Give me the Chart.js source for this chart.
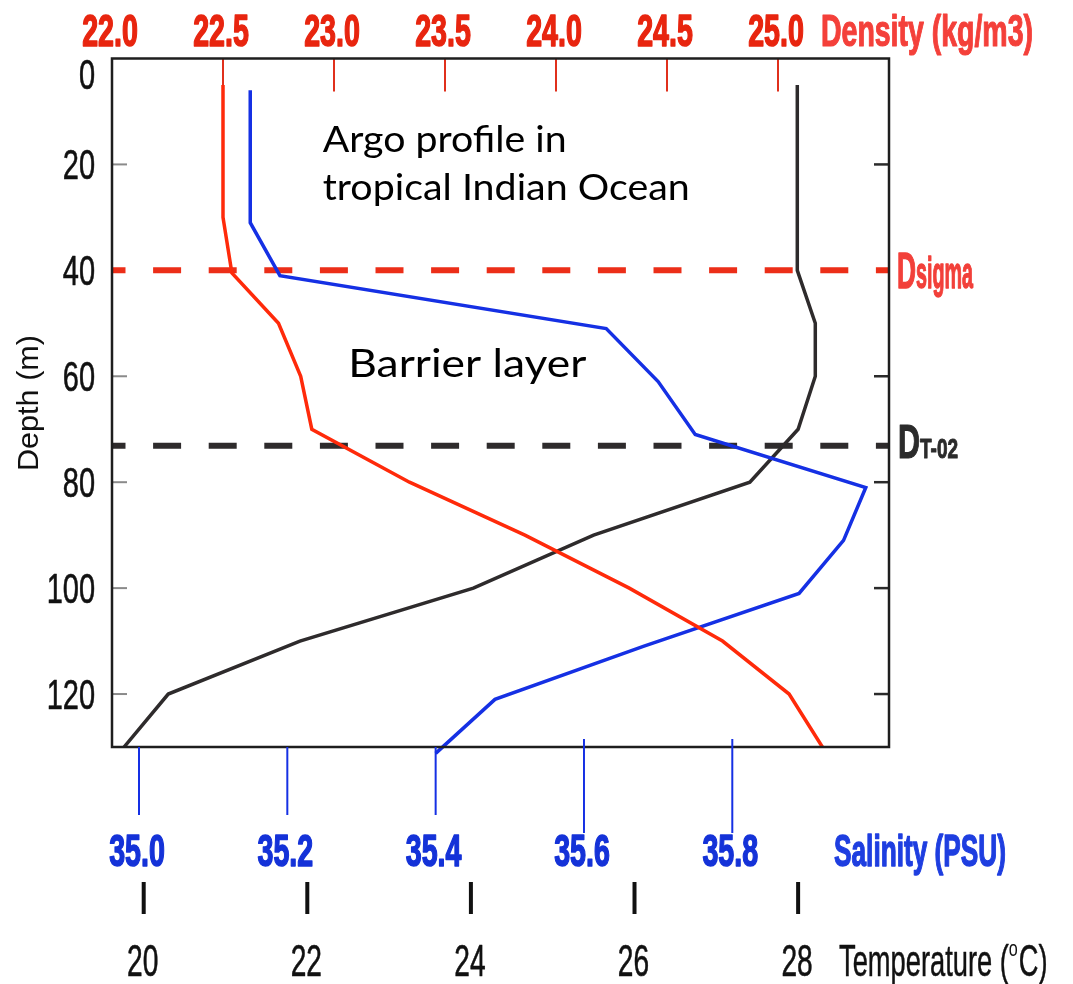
<!DOCTYPE html>
<html>
<head>
<meta charset="utf-8">
<title>Argo profile - barrier layer</title>
<script src="https://cdn.jsdelivr.net/npm/chart.js@4/dist/chart.umd.min.js"></script>
<style>
  html, body { margin: 0; padding: 0; background: #fff; }
  canvas { display: block; }
</style>
</head>
<body>
<canvas id="profile" width="1073" height="984"></canvas>
<script>
// values (depth in m)
const depthTicks = [0, 20, 40, 60, 80, 100, 120];
const densityTicks = [22.0, 22.5, 23.0, 23.5, 24.0, 24.5, 25.0];
const salinityTicks = [35.0, 35.2, 35.4, 35.6, 35.8];
const temperatureTicks = [20, 22, 24, 26, 28];

const densityDepth = [5, 30, 40.5, 50, 60, 70, 80, 90, 100, 110, 120, 130];
const densityValues = [22.50, 22.50, 22.54, 22.75, 22.85, 22.90, 23.34, 23.86, 24.33, 24.75, 25.05, 25.20];

const salinityDepth = [6, 31, 41, 51, 61, 71, 81, 91, 101, 111, 121, 131.2];
const salinityValues = [35.15, 35.15, 35.19, 35.63, 35.70, 35.75, 35.98, 35.95, 35.89, 35.68, 35.48, 35.40];

const temperatureDepth = [5, 40, 50, 60, 70, 80, 90, 100, 110, 120, 130];
const temperatureValues = [27.99, 27.99, 28.21, 28.21, 28.00, 27.41, 25.50, 24.03, 21.91, 20.30, 19.76];

const dSigma = 40;     // density-based and T-0.2 layer depths
const dT02 = 73.1;

const AXIS_FONT = '"Liberation Sans", Arial, sans-serif';
const NOTE_FONT = 'Lato, "Open Sans", sans-serif';

const RED = '#ff2a0a';
const BLUE = '#1530e4';
const BLACK = '#2e2b2c';

function pairs(xs, ys) {
    return xs.map((v, i) => ({ x: v, y: ys[i] }));
}

// draws text squeezed horizontally (the original uses a condensed face)
function drawText(ctx, s, x, y, o) {
    ctx.save();
    ctx.font = (o.weight || 'normal') + ' ' + o.size + 'px ' + (o.family || AXIS_FONT);
    const nat = ctx.measureText(s).width;
    const sx = o.width ? o.width / nat : (o.sx || 1);
    const w = nat * sx;
    ctx.translate(x, y);
    if (o.rotate) ctx.rotate(o.rotate);
    let x0 = 0;
    if (o.align === 'center') x0 = -w / 2;
    else if (o.align === 'right') x0 = -w;
    ctx.translate(x0, 0);
    ctx.scale(sx, 1);
    ctx.fillStyle = o.color;
    ctx.textAlign = 'left';
    ctx.textBaseline = 'alphabetic';
    ctx.fillText(s, 0, 0);
    if (o.heavy) {
        // thicken strokes a bit, the squeeze makes them thin
        ctx.strokeStyle = o.color;
        ctx.lineWidth = o.heavy;
        ctx.lineJoin = 'round';
        ctx.strokeText(s, 0, 0);
    }
    ctx.restore();
    return w;
}

function line(ctx, x1, y1, x2, y2, color, width) {
    ctx.save();
    ctx.strokeStyle = color;
    ctx.lineWidth = width;
    ctx.beginPath();
    ctx.moveTo(x1, y1);
    ctx.lineTo(x2, y2);
    ctx.stroke();
    ctx.restore();
}

const axesPlugin = {
    id: 'axesPlugin',
    beforeDatasetsDraw(chart) {
        const ctx = chart.ctx;
        const a = chart.chartArea;
        const y = chart.scales.y;
        const xd = chart.scales.xd;

        // density ticks hanging from the top edge
        densityTicks.forEach(v => {
            if (v === 22.0) return;
            const px = xd.getPixelForValue(v);
            line(ctx, px, a.top, px, a.top + 33, '#e0301c', 2);
        });

        // depth ticks, inside on both sides
        depthTicks.forEach(v => {
            if (v === 0 || v === 40) return;
            const py = y.getPixelForValue(v);
            line(ctx, a.left, py, a.left + 15, py, '#8a8a8a', 2);
            line(ctx, a.right - 15, py, a.right, py, '#2b2b2b', 2.5);
        });
    },
    afterDatasetsDraw(chart) {
        const ctx = chart.ctx;
        const a = chart.chartArea;
        const y = chart.scales.y;
        const xd = chart.scales.xd;
        const xs = chart.scales.xs;
        const xt = chart.scales.xt;

        // frame
        ctx.save();
        ctx.strokeStyle = '#1e1e1e';
        ctx.lineWidth = 2.5;
        ctx.strokeRect(a.left, a.top, a.right - a.left, a.bottom - a.top);
        ctx.restore();

        // density (top)
        densityTicks.forEach(v => {
            drawText(ctx, v.toFixed(1), xd.getPixelForValue(v) - 2, 46,
                { size: 44, weight: 'bold', sx: 0.65, color: '#e8250f', align: 'center', heavy: 1.6 });
        });
        drawText(ctx, 'Density (kg/m3)', 821, 46,
            { size: 44, weight: 'bold', width: 212, color: '#f4403a', heavy: 1.2 });

        // depth (left)
        depthTicks.forEach(v => {
            const py = v === 0 ? y.getPixelForValue(v) + 15.5 : y.getPixelForValue(v);
            drawText(ctx, String(v), 95, py + 15,
                { size: 42, sx: 0.69, color: '#111', align: 'right', heavy: 0.6 });
        });
        drawText(ctx, 'Depth (m)', 38, 403,
            { size: 29, width: 136, color: '#111', align: 'center', rotate: -Math.PI / 2 });

        // salinity (bottom)
        salinityTicks.forEach((v, i) => {
            const px = xs.getPixelForValue(v);
            const long = i >= 3;
            line(ctx, px, long ? a.bottom - 8 : a.bottom, px, long ? a.bottom + 86 : a.bottom + 68, BLUE, 2);
            drawText(ctx, v.toFixed(1), px - 2, 866,
                { size: 44, weight: 'bold', sx: 0.65, color: '#1432d8', align: 'center', heavy: 1.6 });
        });
        drawText(ctx, 'Salinity (PSU)', 834, 866,
            { size: 44, weight: 'bold', width: 172, color: '#1e3ee0', heavy: 1.4 });

        // temperature (bottom)
        temperatureTicks.forEach(v => {
            const px = xt.getPixelForValue(v);
            line(ctx, px, 882, px, 914, '#111', 4);
            drawText(ctx, String(v), px - 1, 976,
                { size: 44, sx: 0.64, color: '#111', align: 'center', heavy: 0.6 });
        });
        const wT = drawText(ctx, 'Temperature (', 839, 976,
            { size: 44, sx: 0.62, color: '#111', heavy: 0.5 });
        drawText(ctx, 'o', 839 + wT, 956,
            { size: 22, width: 9, color: '#111' });
        drawText(ctx, 'C)', 839 + wT + 10, 976,
            { size: 44, sx: 0.62, color: '#111', heavy: 0.5 });

        // layer markers on the right
        const wS = drawText(ctx, 'D', 897, 288,
            { size: 50, weight: 'bold', width: 19, color: '#f2403a', heavy: 1.4 });
        drawText(ctx, 'sigma', 897 + wS, 288,
            { size: 44, weight: 'bold', width: 57, color: '#f2403a', heavy: 1.4 });
        const wD = drawText(ctx, 'D', 898, 458,
            { size: 48, weight: 'bold', width: 22, color: '#2b2b2b', heavy: 1.2 });
        drawText(ctx, 'T-02', 898 + wD, 458,
            { size: 28, weight: 'bold', width: 38, color: '#2b2b2b', heavy: 1 });

        // notes
        drawText(ctx, 'Argo profile in', 322.7, 151.7,
            { size: 36, family: NOTE_FONT, width: 244, color: '#000' });
        drawText(ctx, 'tropical Indian Ocean', 322.7, 200,
            { size: 36, family: NOTE_FONT, width: 367, color: '#000' });
        drawText(ctx, 'Barrier layer', 348.3, 376.7,
            { size: 39, family: NOTE_FONT, width: 238, color: '#000' });
    }
};

new Chart(document.getElementById('profile'), {
    type: 'scatter',
    data: {
        datasets: [
            {
                label: 'Density',
                data: pairs(densityValues, densityDepth),
                xAxisID: 'xd', yAxisID: 'y',
                showLine: true, pointRadius: 0,
                borderColor: RED, borderWidth: 3.5, order: 1
            },
            {
                label: 'Salinity',
                data: pairs(salinityValues, salinityDepth),
                xAxisID: 'xs', yAxisID: 'y',
                showLine: true, pointRadius: 0,
                borderColor: BLUE, borderWidth: 3.5, order: 1,
                clip: { left: 0, top: 0, right: 0, bottom: 8 }
            },
            {
                label: 'Temperature',
                data: pairs(temperatureValues, temperatureDepth),
                xAxisID: 'xt', yAxisID: 'y',
                showLine: true, pointRadius: 0,
                borderColor: BLACK, borderWidth: 3.5, order: 1
            },
            {
                label: 'Dsigma',
                data: [{ x: 22.0, y: dSigma }, { x: 25.5, y: dSigma }],
                xAxisID: 'xd', yAxisID: 'y',
                showLine: true, pointRadius: 0,
                borderColor: '#ec2e18', borderWidth: 6,
                borderDash: [28, 27.6], borderDashOffset: 14.5, order: 5
            },
            {
                label: 'DT-02',
                data: [{ x: 22.0, y: dT02 }, { x: 25.5, y: dT02 }],
                xAxisID: 'xd', yAxisID: 'y',
                showLine: true, pointRadius: 0,
                borderColor: '#2e2b2c', borderWidth: 6,
                borderDash: [28, 27.6], borderDashOffset: 14.5, order: 5
            }
        ]
    },
    options: {
        responsive: false,
        animation: false,
        events: [],
        layout: { padding: { left: 112, top: 58.5, right: 184, bottom: 237 } },
        plugins: {
            legend: { display: false },
            tooltip: { enabled: false }
        },
        scales: {
            y: { type: 'linear', reverse: true, min: 0, max: 130, display: false },
            xd: { type: 'linear', axis: 'x', position: 'top', min: 22.0, max: 25.5, display: false },
            xs: { type: 'linear', axis: 'x', position: 'bottom', min: 34.9636, max: 36.0113, display: false },
            xt: { type: 'linear', axis: 'x', position: 'bottom', min: 19.6125, max: 29.111, display: false }
        }
    },
    plugins: [axesPlugin]
});
</script>
</body>
</html>
